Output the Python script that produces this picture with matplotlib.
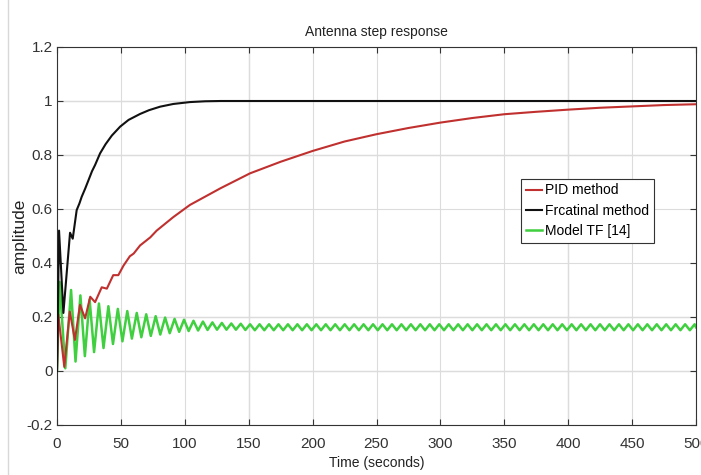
import numpy as np
import matplotlib.pyplot as plt
from matplotlib.lines import Line2D

plt.rcParams['font.family'] = ['Liberation Sans', 'DejaVu Sans']

# PID method (red)
pid_t = [0, 1, 5.7, 10, 14, 18, 22, 26, 29.8, 35, 39, 44, 48, 52, 57, 60, 65, 73, 78, 91,
         104, 128, 151, 175, 200, 225, 250, 275, 300, 325, 350, 375, 400, 425, 450, 475, 500]
pid_v = [0, 0.21, 0.015, 0.22, 0.115, 0.245, 0.195, 0.275, 0.255, 0.31, 0.305, 0.355, 0.355,
         0.39, 0.425, 0.435, 0.465, 0.495, 0.52, 0.57, 0.615, 0.677, 0.732, 0.775, 0.815, 0.85,
         0.877, 0.9, 0.92, 0.937, 0.951, 0.96, 0.968, 0.975, 0.98, 0.985, 0.988]

# Frcatinal method (black)
frac_t = [0, 1.6, 5, 10.2, 12.3, 15.4, 17.5, 19.3, 22, 24.5, 27.4, 29.8, 33.7, 38, 42.9,
          49.4, 56, 65, 72, 80.7, 91, 104, 116, 128, 150, 200, 300, 400, 500]
frac_v = [0, 0.52, 0.215, 0.512, 0.49, 0.596, 0.62, 0.645, 0.675, 0.705, 0.74, 0.763, 0.806,
          0.84, 0.872, 0.905, 0.93, 0.952, 0.966, 0.979, 0.989, 0.996, 0.999, 1.0, 1.0, 1.0,
          1.0, 1.0, 1.0]

# Model TF [14] (green) - peaks and troughs
model_t = [0, 2, 6.5, 11, 14.5, 18.3, 21.8, 25.5, 29, 32.8, 36.4, 40.2, 43.8, 47.6, 51.2,
           55, 58.6, 62.4, 66, 69.8, 73.4, 77.2, 80.8, 84.6, 88.2, 92, 95.6, 99.4, 103,
           106.8, 110.4, 114.2, 117.8, 121.6, 125.2, 129, 132.6, 136.4, 140, 143.8, 147.4,
           151.1, 154.8, 158.5, 162.2, 165.9, 169.6, 173.3, 177.0, 180.7, 184.4,
           188.1, 191.8, 195.5, 199.2, 202.9, 206.6, 210.3, 214.0, 217.7, 221.4,
           225.1, 228.8, 232.5, 236.2, 239.9, 243.6, 247.3, 251.0, 254.7, 258.4,
           262.1, 265.8, 269.5, 273.2, 276.9, 280.6, 284.3, 288.0, 291.7, 295.4,
           299.1, 302.8, 306.5, 310.2, 313.9, 317.6, 321.3, 325.0, 328.7, 332.4,
           336.1, 339.8, 343.5, 347.2, 350.9, 354.6, 358.3, 362.0, 365.7, 369.4,
           373.1, 376.8, 380.5, 384.2, 387.9, 391.6, 395.3, 399.0, 402.7, 406.4,
           410.1, 413.8, 417.5, 421.2, 424.9, 428.6, 432.3, 436.0, 439.7, 443.4,
           447.1, 450.8, 454.5, 458.2, 461.9, 465.6, 469.3, 473.0, 476.7, 480.4,
           484.1, 487.8, 491.5, 495.2, 498.9, 500]
model_v = [0.0, 0.33, 0.01, 0.30, 0.035, 0.28, 0.055, 0.265, 0.07, 0.25, 0.085, 0.24, 0.10,
           0.23, 0.11, 0.222, 0.12, 0.215, 0.125, 0.21, 0.13, 0.203, 0.135, 0.198, 0.14,
           0.193, 0.145, 0.19, 0.148, 0.186, 0.15, 0.183, 0.152, 0.18, 0.153, 0.178, 0.153,
           0.176, 0.153, 0.175, 0.152,
           0.173, 0.151, 0.173, 0.151, 0.173, 0.151, 0.173, 0.151, 0.173, 0.151,
           0.173, 0.151, 0.173, 0.151, 0.173, 0.151, 0.173, 0.151, 0.173, 0.151,
           0.173, 0.151, 0.173, 0.151, 0.173, 0.151, 0.173, 0.151, 0.173, 0.151,
           0.173, 0.151, 0.173, 0.151, 0.173, 0.151, 0.173, 0.151, 0.173, 0.151,
           0.173, 0.151, 0.173, 0.151, 0.173, 0.151, 0.173, 0.151, 0.173, 0.151,
           0.173, 0.151, 0.173, 0.151, 0.173, 0.151, 0.173, 0.151, 0.173, 0.151,
           0.173, 0.151, 0.173, 0.151, 0.173, 0.151, 0.173, 0.151, 0.173, 0.151,
           0.173, 0.151, 0.173, 0.151, 0.173, 0.151, 0.173, 0.151, 0.173, 0.151,
           0.173, 0.151, 0.173, 0.151, 0.173, 0.151, 0.173, 0.151, 0.173, 0.151,
           0.173, 0.151, 0.173, 0.151, 0.173, 0.162]

xticks = [0, 50, 100, 150, 200, 250, 300, 350, 400, 450, 500]
yticks = [-0.2, 0, 0.2, 0.4, 0.6, 0.8, 1, 1.2]
ytick_labels = ['-0.2', '0', '0.2', '0.4', '0.6', '0.8', '1', '1.2']
dark_x = [150, 400]
dark_y = [0, 0.2, 0.8, 1]

fig = plt.figure(figsize=(7.01, 4.75), dpi=100)
ax = fig.add_axes([57/701, 50/475, 639/701, 378/475])

# faint border line on the left of the picture
fig.add_artist(Line2D([8/701, 8/701], [0, 1], color='#d8d8d8', lw=1))

ax.grid(True, color='#dcdcdc', lw=0.8)
for v in dark_x:
    ax.axvline(v, color='#8f8f8f', lw=0.8, zorder=0.5)
for v in dark_y:
    ax.axhline(v, color='#8f8f8f', lw=0.8, zorder=0.5)

g, = ax.plot(model_t, model_v, color='#3fcf3f', lw=1.8, label='Model TF [14]', zorder=2)
r, = ax.plot(pid_t, pid_v, color='#c0302f', lw=1.5, label='PID method', zorder=3)
k, = ax.plot(frac_t, frac_v, color='#111111', lw=1.5, label='Frcatinal method', zorder=3)

ax.set_xlim(0, 500)
ax.set_ylim(-0.2, 1.2)
ax.set_xticks(xticks)
ax.set_xticklabels([str(x) for x in xticks])
ax.set_yticks(yticks)
ax.set_yticklabels(ytick_labels)
ax.tick_params(direction='in', length=4, top=True, right=True, labelsize=11,
               colors='#333333', labelcolor='#333333', pad=3)
ax.tick_params(axis='x', pad=9)
for s in ax.spines.values():
    s.set_color('#333333')
    s.set_linewidth(0.8)

ax.set_title('Antenna step response', fontsize=10, color='#222222', pad=8)
ax.set_xlabel('Time (seconds)', fontsize=10, color='#222222', labelpad=3)
ax.set_ylabel('amplitude', fontsize=12.5, color='#222222')
ax.yaxis.set_label_coords(-0.046, 0.5)

leg = ax.legend(handles=[r, k, g], loc='upper left', bbox_to_anchor=(0.726, 0.652),
                borderaxespad=0, fontsize=10, handlelength=1.2, handletextpad=0.2,
                borderpad=0.35, labelspacing=0.45, fancybox=False, framealpha=1,
                edgecolor='#333333')
leg.get_frame().set_linewidth(0.8)

fig.savefig('out.png', dpi=100)
